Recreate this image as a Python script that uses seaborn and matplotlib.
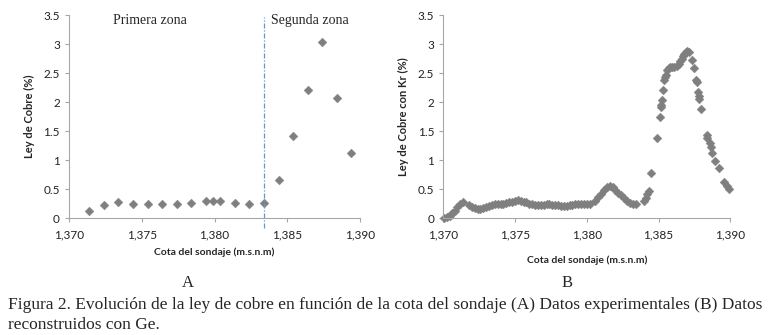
import pandas as pd
import matplotlib.pyplot as plt
import matplotlib.ticker as mticker
import seaborn as sns

# (A) datos experimentales
cota_a = [1371.4, 1372.4, 1373.4, 1374.4, 1375.4, 1376.4, 1377.4, 1378.4, 1379.4,
          1379.9, 1380.4, 1381.4, 1382.4, 1383.4, 1384.4, 1385.4, 1386.4, 1387.4,
          1388.4, 1389.4]
ley_a = [0.12, 0.23, 0.27, 0.24, 0.24, 0.24, 0.24, 0.26, 0.29, 0.30, 0.29, 0.26,
         0.24, 0.26, 0.65, 1.41, 2.21, 3.03, 2.07, 1.13]

# (B) datos reconstruidos
cota_b = [1370.05, 1370.25, 1370.45, 1370.65, 1370.85, 1371.0, 1371.2, 1371.4,
          1371.8, 1372.0, 1372.2, 1372.4, 1372.6, 1372.8, 1373.0, 1373.2, 1373.4,
          1373.6, 1373.8, 1374.0, 1374.2, 1374.4, 1374.6, 1374.8, 1375.0, 1375.2,
          1375.4, 1375.6, 1375.8, 1376.0, 1376.2, 1376.4, 1376.6, 1376.8, 1377.0,
          1377.2, 1377.4, 1377.6, 1377.8, 1378.0, 1378.2, 1378.4, 1378.6, 1378.8,
          1379.0, 1379.2, 1379.4, 1379.6, 1379.8, 1380.0, 1380.2,
          1380.6, 1380.8, 1381.0, 1381.2, 1381.4, 1381.6, 1381.8, 1382.0, 1382.2,
          1382.4, 1382.6, 1382.8, 1383.0, 1383.2, 1383.4,
          1384.0, 1384.1, 1384.2, 1384.3, 1384.5, 1384.9, 1385.07, 1385.15, 1385.2,
          1385.25, 1385.3, 1385.4, 1385.45, 1385.5, 1385.6, 1385.7, 1385.8, 1385.95,
          1386.1, 1386.25, 1386.4, 1386.5, 1386.6, 1386.7, 1386.8, 1386.9, 1387.0,
          1387.1, 1387.3, 1387.5, 1387.6, 1387.65, 1387.75, 1387.8, 1387.82,
          1387.95, 1388.35, 1388.4, 1388.55, 1388.65, 1388.75, 1388.95, 1389.2,
          1389.55, 1389.75, 1389.9]
ley_b = [0.0, 0.02, 0.04, 0.09, 0.13, 0.19, 0.24, 0.28,
         0.22, 0.19, 0.17, 0.16, 0.16, 0.17, 0.19, 0.21, 0.23,
         0.25, 0.25, 0.24, 0.25, 0.26, 0.27, 0.28, 0.30, 0.31,
         0.30, 0.28, 0.27, 0.25, 0.24, 0.22, 0.22, 0.22, 0.23,
         0.24, 0.24, 0.23, 0.23, 0.22, 0.21, 0.21, 0.21, 0.22,
         0.23, 0.24, 0.24, 0.25, 0.25, 0.25, 0.25,
         0.30, 0.36, 0.42, 0.49, 0.54, 0.55, 0.53, 0.49, 0.44,
         0.39, 0.34, 0.29, 0.26, 0.24, 0.24,
         0.30, 0.35, 0.42, 0.47, 0.77, 1.38, 1.75, 1.92, 1.95,
         2.03, 2.20, 2.38, 2.43, 2.47, 2.55, 2.59, 2.60, 2.61,
         2.61, 2.62, 2.65, 2.70, 2.75, 2.79, 2.83, 2.87, 2.88,
         2.86, 2.72, 2.58, 2.38, 2.34, 2.18, 2.10, 2.05,
         1.88, 1.43, 1.38, 1.30, 1.22, 1.13, 0.98, 0.86,
         0.63, 0.55, 0.50]

df_a = pd.DataFrame({"cota": cota_a, "ley": ley_a})
df_b = pd.DataFrame({"cota": cota_b, "ley": ley_b})

sns.set_style("white")
plt.rcParams["font.family"] = ["Lato", "DejaVu Sans"]

fig = plt.figure(figsize=(7.68, 3.35), dpi=100)
ax1 = fig.add_axes([0.0898, 0.349, 0.379, 0.606])
ax2 = fig.add_axes([0.577, 0.349, 0.374, 0.606])

gris = "#7f7f7f"
for ax, df in [(ax1, df_a), (ax2, df_b)]:
    sns.scatterplot(data=df, x="cota", y="ley", ax=ax, marker="D", s=20,
                    color=gris, edgecolor=gris, linewidth=0.3, clip_on=False)
    ax.set_xlim(1370, 1390)
    ax.set_ylim(0, 3.5)
    ax.set_xticks([1370, 1375, 1380, 1385, 1390])
    ax.set_yticks([0, 0.5, 1, 1.5, 2, 2.5, 3, 3.5])
    ax.xaxis.set_major_formatter(mticker.FuncFormatter(lambda v, p: f"{v:,.0f}"))
    ax.yaxis.set_major_formatter(mticker.FuncFormatter(lambda v, p: f"{v:g}"))
    for s in ["top", "right"]:
        ax.spines[s].set_visible(False)
    for s in ["left", "bottom"]:
        ax.spines[s].set_color("#a6a6a6")
        ax.spines[s].set_linewidth(0.8)
    ax.tick_params(axis="both", direction="out", length=3, width=0.8,
                   color="#a6a6a6", labelsize=8.5, labelcolor="#222222",
                   left=True, bottom=True)
    ax.tick_params(axis="x", pad=5)
    ax.set_xlabel("Cota del sondaje (m.s.n.m)", fontsize=7.5, fontweight="bold")

ax1.set_ylabel("Ley de Cobre (%)", fontsize=8, fontweight="bold", labelpad=6)
ax2.set_ylabel("Ley de Cobre con Kr (%)", fontsize=8, fontweight="bold", labelpad=6)
ax1.xaxis.labelpad = 5
ax2.xaxis.labelpad = 11

# linea divisoria entre zonas
ax1.axvline(1383.4, ymin=-0.05, ymax=0.99, color="#5b9bd5", linewidth=0.9,
            linestyle=(0, (4, 1.5, 1, 1.5)), clip_on=False)
ax1.text(1373.0, 3.4, "Primera zona", family="Liberation Serif", fontsize=10,
         va="center")
ax1.text(1383.9, 3.4, "Segunda zona", family="Liberation Serif", fontsize=10,
         va="center")

fig.text(188 / 768, 1 - 283 / 335, "A", family="Liberation Serif", fontsize=12,
         ha="center", va="center")
fig.text(567 / 768, 1 - 283 / 335, "B", family="Liberation Serif", fontsize=12,
         ha="center", va="center")
fig.text(8 / 768, 1 - 305 / 335,
         "Figura 2. Evolución de la ley de cobre en función de la cota del sondaje "
         "(A) Datos experimentales (B) Datos",
         family="Liberation Serif", fontsize=12.5, va="center")
fig.text(8 / 768, 1 - 325 / 335, "reconstruidos con Ge.",
         family="Liberation Serif", fontsize=12.5, va="center")

plt.savefig("out.png", dpi=100)
